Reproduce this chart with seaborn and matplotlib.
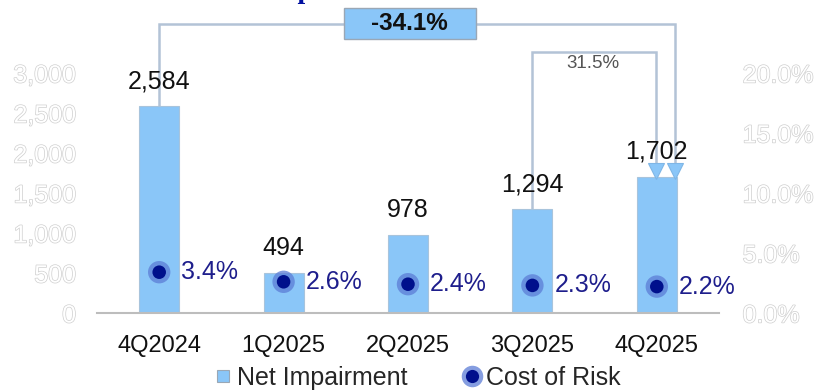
import matplotlib
matplotlib.use("Agg")
import matplotlib.pyplot as plt
import matplotlib.patheffects as pe
from matplotlib.lines import Line2D
from matplotlib.legend_handler import HandlerTuple
from matplotlib.patches import Rectangle
import seaborn as sns

# Quarterly figures
quarters = ["4Q2024", "1Q2025", "2Q2025", "3Q2025", "4Q2025"]
net_impairment = [2584, 494, 978, 1294, 1702]
cost_of_risk = [3.4, 2.6, 2.4, 2.3, 2.2]
left_ticks = [0, 500, 1000, 1500, 2000, 2500, 3000]
right_ticks = [0, 5, 10, 15, 20]
yoy_change = "-34.1%"
qoq_change = "31.5%"

sns.set_style("white")
plt.rcParams["font.family"] = ["Liberation Sans", "DejaVu Sans"]

BAR = "#8ac6f8"
NAVY = "#00108c"
HALO = "#5c7dd6"
LABEL_NAVY = "#1e1e8c"
LINK = "#b3c3d6"

fig = plt.figure(figsize=(8.15, 3.9), dpi=100)
ax = fig.add_axes([97 / 815, 77 / 390, 622 / 815, 240 / 390])

sns.barplot(x=quarters, y=net_impairment, ax=ax, color=BAR, saturation=1,
            width=0.32, edgecolor="#a8c4dc", linewidth=0.8, zorder=2)
ax.set_xlim(-0.5, 4.5)
ax.set_ylim(0, 3000)
ax.set_xlabel("")
ax.set_ylabel("")
for s in ["top", "left", "right"]:
    ax.spines[s].set_visible(False)
ax.spines["bottom"].set_color("#bdbdbd")
ax.spines["bottom"].set_linewidth(1.5)

outline = [pe.withStroke(linewidth=1.0, foreground="#cfcfcf")]
ax.set_yticks(left_ticks)
ax.set_yticklabels([f"{v:,}" for v in left_ticks], fontsize=18, color="white",
                   path_effects=outline)
ax.tick_params(axis="y", length=0, pad=15)
ax.tick_params(axis="x", length=0, pad=16, labelsize=17, labelcolor="#111111")

# value labels above bars
for i, v in enumerate(net_impairment):
    ax.annotate(f"{v:,}", (i, v), xytext=(0, 18), textcoords="offset points",
                ha="center", va="center", fontsize=18, color="#111111", zorder=5)

# change brackets
px = 3000 / 240  # data units per pixel on the left axis
top_big = 3612
top_small = 3262
tri_h = 12 * px
ax.plot([0, 0, 4.15, 4.15], [2584, top_big, top_big, 1702 + tri_h],
        color=LINK, lw=1.8, clip_on=False, zorder=1, solid_joinstyle="miter")
ax.plot([3, 3, 3.99, 3.99], [1294, top_small, top_small, 1702 + tri_h],
        color=LINK, lw=1.8, clip_on=False, zorder=1, solid_joinstyle="miter")
ax.plot([3.99, 4.15], [1702 + tri_h / 2] * 2, ls="none", marker="v",
        ms=11, color=BAR, markeredgecolor="#7fb6e6", mew=0.8,
        clip_on=False, zorder=3)

ax.add_patch(Rectangle((1.484, 3425), 1.06, 387, facecolor=BAR,
                       edgecolor="#9aa7b5", lw=1.0, clip_on=False, zorder=4))
ax.text(2.014, 3618, yoy_change, ha="center", va="center", fontsize=17.5,
        fontweight="bold", color="#111111", clip_on=False, zorder=5)
ax.text(3.49, 3120, qoq_change, ha="center", va="center", fontsize=13.5,
        color="#555555", clip_on=False, zorder=5)

# cost of risk on the secondary axis
ax2 = ax.twinx()
xs = list(range(len(quarters)))
sns.scatterplot(x=xs, y=cost_of_risk, ax=ax2, s=260, color=HALO, alpha=0.75,
                edgecolor="none", legend=False, zorder=3)
sns.scatterplot(x=xs, y=cost_of_risk, ax=ax2, s=95, color=NAVY,
                edgecolor="none", legend=False, zorder=4)
for i, v in enumerate(cost_of_risk):
    ax2.annotate(f"{v:.1f}%", (i, v), xytext=(16, 0), textcoords="offset points",
                 ha="left", va="center", fontsize=18, color=LABEL_NAVY)
ax2.set_ylim(0, 20)
ax2.set_xlim(-0.5, 4.5)
ax2.set_yticks(right_ticks)
ax2.set_yticklabels([f"{v:.1f}%" for v in right_ticks], fontsize=18,
                    color="white", path_effects=outline)
ax2.tick_params(axis="y", length=0, pad=17)
ax2.set_ylabel("")
for s in ["top", "left", "right", "bottom"]:
    ax2.spines[s].set_visible(False)

# title, mostly above the top edge
fig.text(0.507, 1 + 1.5 / 390, "Net Impairment and Cost of Risk", ha="center",
         va="baseline", fontsize=20, fontweight="bold", color="#0010a0",
         family="Liberation Serif")

# legend
h_bar = Line2D([], [], ls="none", marker="s", ms=8, color=BAR,
               markeredgecolor="#9aa7b5", mew=0.8)
h_halo = Line2D([], [], ls="none", marker="o", ms=15.5, color=HALO, alpha=0.75,
                markeredgecolor="none")
h_dot = Line2D([], [], ls="none", marker="o", ms=9.5, color=NAVY,
               markeredgecolor="none")
fig.legend([h_bar, (h_halo, h_dot)], ["Net Impairment", "Cost of Risk"],
           handler_map={tuple: HandlerTuple(ndivide=1, pad=0)},
           loc="center", bbox_to_anchor=(418 / 815, 1 - 378 / 390), ncol=2,
           frameon=False, fontsize=18, handlelength=0.6, handletextpad=0.25,
           columnspacing=2.3, borderpad=0, borderaxespad=0)

fig.savefig("out.png", dpi=100)
